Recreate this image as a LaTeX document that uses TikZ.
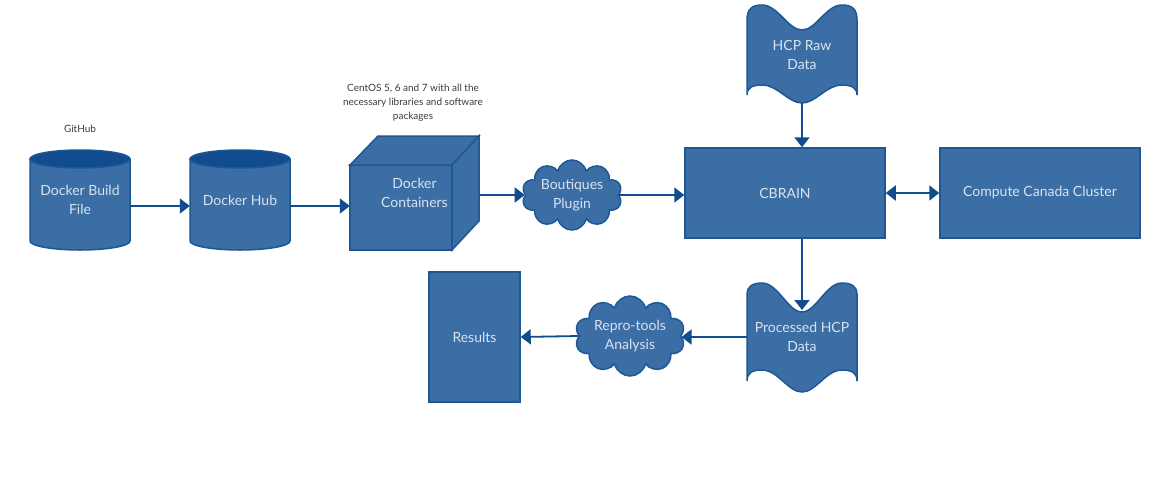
\documentclass[tikz,border=0pt]{standalone}
\usepackage{fontspec}
\setmainfont{Lato}
\usetikzlibrary{arrows.meta,shapes.symbols}
\definecolor{boxfill}{RGB}{58,110,165}
\definecolor{boxline}{RGB}{30,86,150}
\definecolor{topfill}{RGB}{16,76,142}
\definecolor{arrowc}{RGB}{16,76,142}
\definecolor{txt}{RGB}{218,226,238}
\definecolor{smalltxt}{RGB}{60,60,60}
\newcommand\cylshape[1]{%
  \path[shapefill] (#1-50,159) -- (#1-50,241) arc[start angle=180,end angle=0,x radius=50,y radius=9] -- (#1+50,159) -- cycle;
  \path[shapefill,fill=topfill] (#1,159) ellipse[x radius=50,y radius=9];}
\newcommand\waveshape[6]{%
  \path[shapefill] (747,#1) .. controls (747,#2+4) and (752,#2) .. (762,#2)
    .. controls (778,#2) and (788,#3) .. (802,#3)
    .. controls (816,#3) and (826,#2) .. (842,#2)
    .. controls (852,#2) and (857,#2+4) .. (857,#1)
    -- (857,#4) .. controls (857,#5+3) and (852,#5) .. (842,#5)
    .. controls (826,#5) and (816,#6) .. (802,#6)
    .. controls (788,#6) and (778,#5) .. (762,#5)
    .. controls (752,#5) and (747,#5+3) .. (747,#4) -- cycle;}
\begin{document}
\begin{tikzpicture}[x=1pt,y=-1pt,
  shapefill/.style={fill=boxfill,draw=boxline,line width=1.5pt},
  lbl/.style={text=txt,font=\fontsize{14}{19.5}\selectfont,align=center,inner sep=0pt},
  boxnode/.style={shapefill,lbl,rectangle},
  flow/.style={draw=arrowc,line width=1.8pt,-{Triangle[length=10pt,width=15pt]}},
  note/.style={text=smalltxt,font=\fontsize{10}{14}\selectfont,align=center,inner sep=0pt},
  cloudnode/.style={cloud,cloud puffs=10,cloud ignores aspect,shapefill,lbl}
]
\useasboundingbox[fill=white] (0,0) rectangle (1150,480);

% cylinders
\cylshape{80}
\cylshape{240}
\node[lbl,minimum width=100pt] (dbf) at (80,200) {Docker Build\\File};
\node[lbl,minimum width=100pt] (dh) at (240,200) {Docker Hub};
\node[note] (github) at (80,129) {GitHub};

% cube
\path[shapefill] (350,165) rectangle (452,250);
\path[shapefill] (350,165) -- (378,136) -- (479,136) -- (452,165) -- cycle;
\path[shapefill] (452,165) -- (479,136) -- (479,221) -- (452,250) -- cycle;
\node[lbl,minimum width=129pt,minimum height=114pt] (cube) at (414.5,193) {Docker\\Containers};
\node[note] (centos) at (413,103) {CentOS 5, 6 and 7 with all the\\necessary libraries and software\\packages};

% clouds
\node[cloudnode,minimum width=100pt,minimum height=70pt] (bout) at (572,195) {Boutiques\\Plugin};
\node[cloudnode,minimum width=110pt,minimum height=80pt] (repro) at (630,336) {Repro-tools\\Analysis};

% rectangles
\node[boxnode,minimum width=200pt,minimum height=90pt] (cbrain) at (785,193) {CBRAIN};
\node[boxnode,minimum width=200pt,minimum height=90pt] (ccc) at (1040,193) {Compute Canada Cluster};
\node[boxnode,minimum width=91pt,minimum height=130pt] (results) at (474.5,337) {Results};

% wave shapes
\waveshape{20}{5}{30}{95}{85}{103}
\waveshape{294}{283}{312}{381}{370}{392}
\node[lbl,minimum width=110pt,minimum height=96pt] (raw) at (802,55) {HCP Raw\\Data};
\node[lbl,minimum width=110pt] (proc) at (802,337) {Processed HCP\\Data};
\coordinate (proctop) at (802,310);

% connectors
\coordinate (dbfout) at ([yshift=-6pt]dbf.east);
\coordinate (dhout) at ([yshift=-6pt]dh.east);
\draw[flow] (dbfout) -- (dbfout -| dh.west);
\draw[flow] (dhout) -- (dhout -| cube.west);
\draw[flow] (cube.east |- bout.west) -- (bout.west);
\draw[flow] (bout.east) -- (bout.east -| cbrain.west);
\draw[flow,{Triangle[length=10pt,width=15pt]}-{Triangle[length=10pt,width=15pt]}] (cbrain.east) -- (ccc.west);
\draw[flow] (raw.south) -- (raw.south |- cbrain.north);
\draw[flow] (raw.south |- cbrain.south) -- (proctop);
\draw[flow] (proc.west) -- (proc.west -| repro.east);
\draw[flow] (repro.west) -- (results.east);
\end{tikzpicture}
\end{document}
